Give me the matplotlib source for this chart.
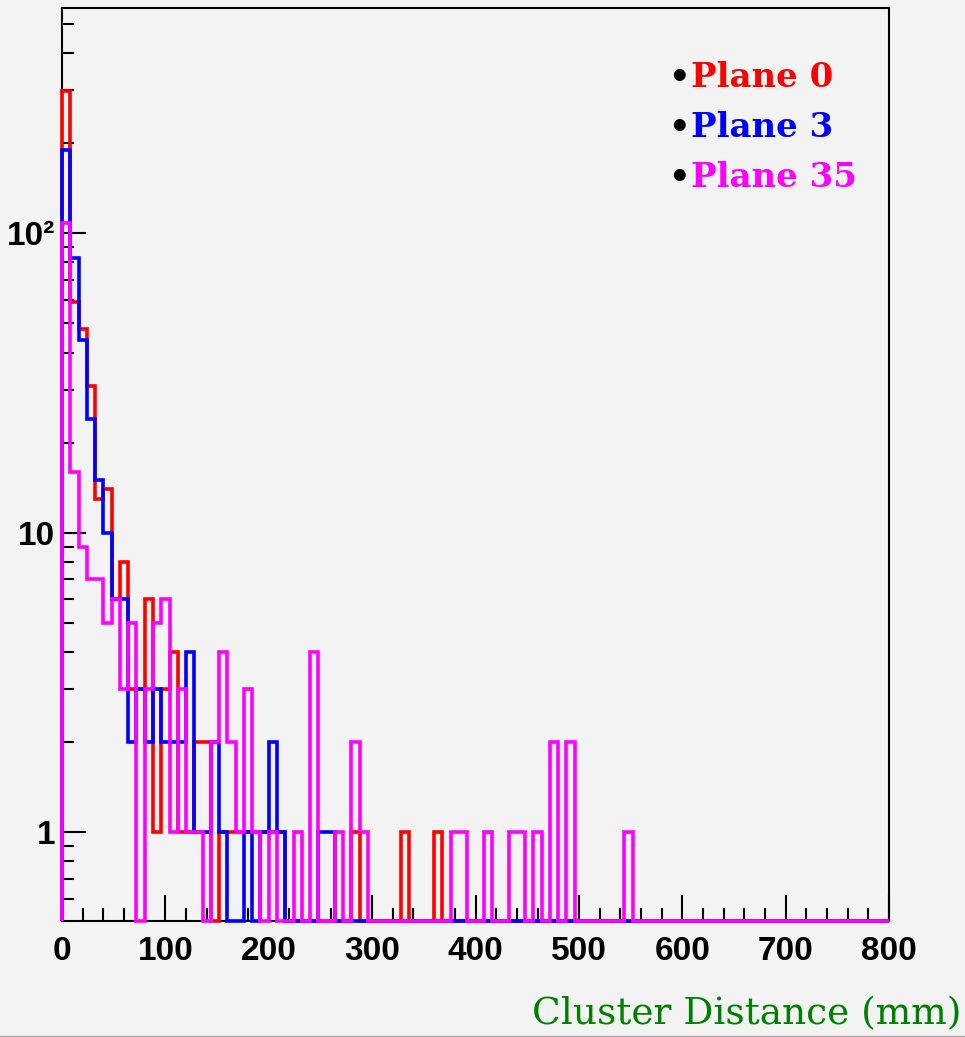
import numpy as np
import matplotlib
matplotlib.use("Agg")
import matplotlib.pyplot as plt
from matplotlib import font_manager as fm
from matplotlib.lines import Line2D

# histogram binning: 100 bins of 8 mm
edges = np.arange(0, 808, 8)

# counts per bin
plane0 = [299, 59, 48, 31, 13, 14, 6, 8, 3, 3, 6, 1, 3, 4, 1, 1, 2, 2, 0, 1,
          1, 1, 1, 1, 1, 1, 1, 0, 0, 0, 0, 0, 0, 0, 0, 1, 0, 0, 0, 0,
          0, 1, 0, 0, 0, 1, 0, 0, 0, 0, 0, 0, 0, 0, 0, 0, 0, 0, 0, 0,
          0, 0, 0, 0, 0, 0, 0, 0, 0, 0, 0, 0, 0, 0, 0, 0, 0, 0, 0, 0,
          0, 0, 0, 0, 0, 0, 0, 0, 0, 0, 0, 0, 0, 0, 0, 0, 0, 0, 0, 0]
plane3 = [190, 83, 44, 24, 15, 10, 6, 6, 2, 3, 2, 3, 2, 2, 2, 4, 1, 1, 2, 1,
          0, 0, 1, 0, 1, 2, 1, 0, 0, 0, 0, 1, 1, 0, 0, 0, 0, 0, 0, 0,
          0, 0, 0, 0, 0, 0, 0, 0, 0, 0, 0, 0, 0, 0, 0, 0, 0, 0, 0, 0,
          0, 0, 0, 0, 0, 0, 0, 0, 0, 0, 0, 0, 0, 0, 0, 0, 0, 0, 0, 0,
          0, 0, 0, 0, 0, 0, 0, 0, 0, 0, 0, 0, 0, 0, 0, 0, 0, 0, 0, 0]
plane35 = [108, 16, 9, 7, 7, 5, 6, 3, 5, 0, 3, 5, 6, 1, 3, 1, 1, 0, 2, 4,
           2, 1, 3, 1, 0, 1, 0, 0, 1, 0, 4, 0, 0, 1, 0, 2, 1, 0, 0, 0,
           0, 0, 0, 0, 0, 0, 0, 1, 1, 0, 0, 1, 0, 0, 1, 1, 0, 1, 0, 2,
           0, 2, 0, 0, 0, 0, 0, 0, 1, 0, 0, 0, 0, 0, 0, 0, 0, 0, 0, 0,
           0, 0, 0, 0, 0, 0, 0, 0, 0, 0, 0, 0, 0, 0, 0, 0, 0, 0, 0, 0]

labels = ["Plane 0", "Plane 3", "Plane 35"]
colors = ["#ff0000", "#0000ff", "#ff00ff"]

bg = "#f3f3f3"
ymin, ymax = 0.506, 564


def has_font(name):
    try:
        fm.findfont(fm.FontProperties(family=name), fallback_to_default=False)
        return True
    except ValueError:
        return False


# ROOT uses a narrow helvetica for the axis labels
if has_font("Liberation Sans Narrow"):
    tick_font, tick_size = "Liberation Sans Narrow", 27
else:
    tick_font, tick_size = "Liberation Sans", 24

fig = plt.figure(figsize=(9.65, 10.37), dpi=100, facecolor=bg)
ax = fig.add_axes([0.06425, 0.1119, 0.857, 0.8801])
ax.set_facecolor(bg)

# histos, empty bins sit on the bottom of the frame like in ROOT
for vals, col in zip([plane0, plane3, plane35], colors):
    v = np.asarray(vals, dtype=float)
    v = np.where(v > 0, v, ymin)
    ax.stairs(v, edges, baseline=ymin, color=col, lw=2.6, clip_on=False, zorder=3)

ax.set_yscale("log")
ax.set_xlim(0, 800)
ax.set_ylim(ymin, ymax)

# ticks
ax.set_xticks(np.arange(0, 801, 100))
ax.set_xticks(np.arange(0, 801, 20), minor=True)
ax.set_xticklabels([str(t) for t in range(0, 801, 100)])
ax.set_yticks([1, 10, 100])
ax.set_yticklabels(["1", "10", "10\u00b2"])
yminor = [0.6, 0.7, 0.8, 0.9] + list(range(2, 10)) + list(range(20, 100, 10)) + [200, 300, 400, 500]
ax.set_yticks(yminor, minor=True)
ax.yaxis.set_minor_formatter(plt.NullFormatter())

ax.tick_params(which="both", direction="in", top=False, right=False, color="black")
ax.tick_params(axis="x", which="major", length=19, width=1.5, pad=11)
ax.tick_params(axis="x", which="minor", length=9.5, width=1.5)
ax.tick_params(axis="y", which="major", length=17, width=1.5, pad=5)
ax.tick_params(axis="y", which="minor", length=8.5, width=1.5)
for lbl in ax.get_xticklabels() + ax.get_yticklabels():
    lbl.set_family(tick_font)
    lbl.set_weight("bold")
    lbl.set_size(tick_size)

for sp in ax.spines.values():
    sp.set_linewidth(1.5)
    sp.set_color("black")

# legend text, bullet in black then coloured name
W, H = 965.0, 1037.0
for i, (lab, col) in enumerate(zip(labels, colors)):
    yb = 1 - (86.7 + 50 * i) / H
    fig.text(690 / W, yb, "\u2022", color="black", fontsize=24.5, fontweight="bold",
             family="DejaVu Serif", va="baseline", ha="right")
    fig.text(691 / W, yb, lab, color=col, fontsize=24.5, fontweight="bold",
             family="DejaVu Serif", va="baseline", ha="left")

# axis title, bottom right
fig.text(962 / W, 1 - 1024.5 / H, "Cluster Distance (mm)", color="#008000",
         fontsize=27, family="DejaVu Serif", ha="right", va="baseline")

# thin gray line at the very bottom
fig.add_artist(Line2D([0, 1], [1 - 1035.5 / H] * 2, color="#a8a8a8", lw=1))

fig.savefig("out.png", dpi=100, facecolor=bg)
